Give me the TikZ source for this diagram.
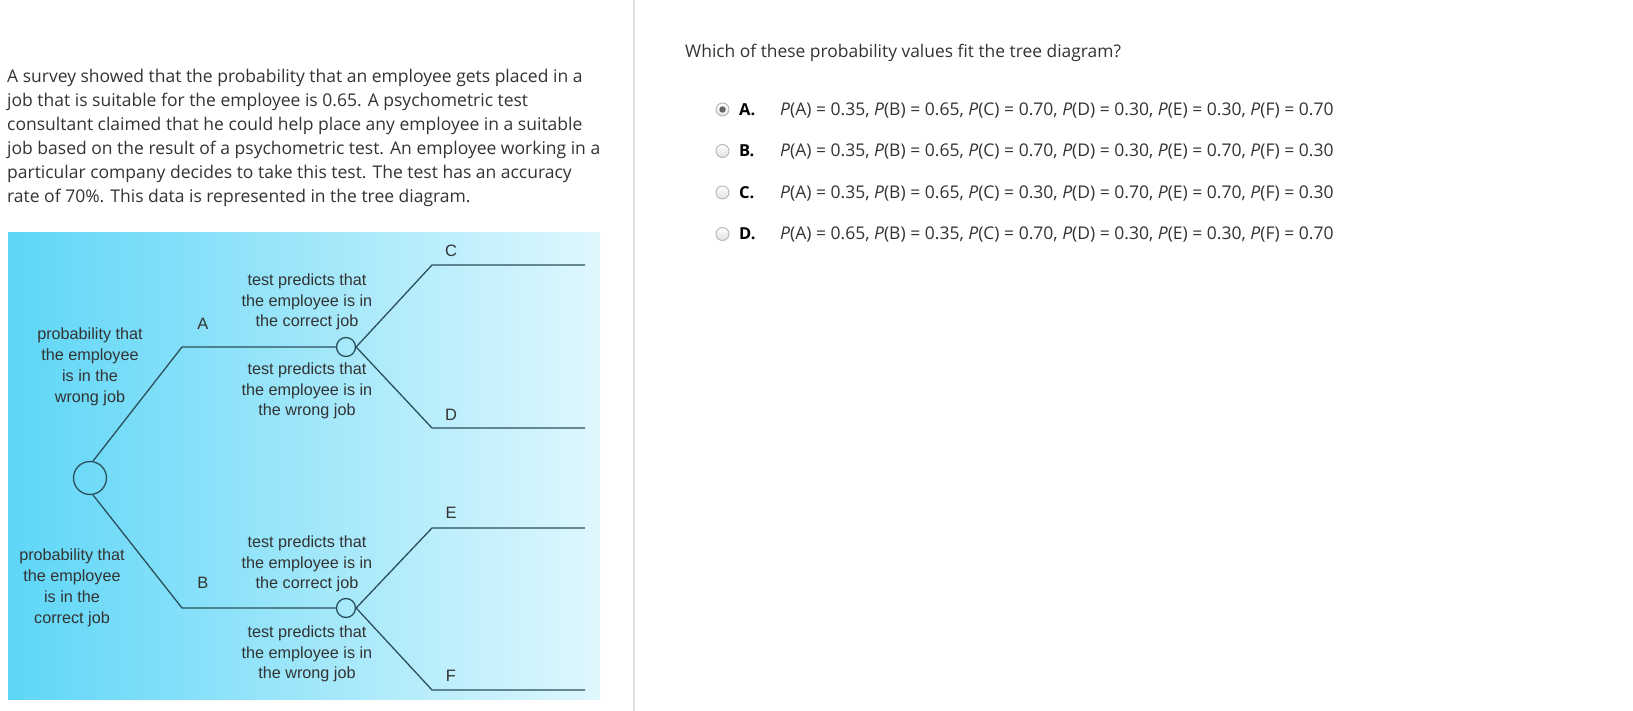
\documentclass[tikz,border=0pt]{standalone}
\usepackage{fontspec}
\setmainfont{Open Sans}
\newfontfamily\arialf{Liberation Sans}
\definecolor{boxL}{HTML}{5ED6F7}
\definecolor{boxR}{HTML}{DFF7FD}
\definecolor{treeline}{HTML}{2A4F5A}
\definecolor{txt}{HTML}{333333}
\definecolor{sep}{HTML}{E0E0E0}
\definecolor{radio}{HTML}{B5B5B5}
\tikzset{
  para/.style={anchor=base west, inner sep=0pt, text=txt, font=\fontsize{17.5}{24}\selectfont},
  lab/.style={align=center, inner sep=0pt, text=txt, font=\arialf\fontsize{16.2}{20.8}\selectfont},
  letter/.style={inner sep=0pt, text=txt, font=\arialf\fontsize{16.5}{19}\selectfont},
  tl/.style={draw=treeline, line width=1.3pt},
  bigc/.style={circle, draw=treeline, line width=1.3pt, minimum size=33pt, inner sep=0pt},
  smallc/.style={circle, draw=treeline, line width=1.3pt, minimum size=19pt, inner sep=0pt},
  rad/.style={circle, draw=radio, line width=0.9pt, minimum size=13pt, inner sep=0pt, top color=white, bottom color=black!12},
  optl/.style={anchor=base west, inner sep=0pt, text=black, font=\bfseries\fontsize{16.5}{18}\selectfont},
  optt/.style={anchor=base west, inner sep=0pt, text=txt, font=\fontsize{17.5}{18}\selectfont},
}
\newcommand{\Pp}{\textit{P}}
\begin{document}
\begin{tikzpicture}[x=1pt,y=-1pt]
\useasboundingbox (0,0) rectangle (1633,711);
\fill[white] (0,0) rectangle (1633,711);
% separator
\draw[sep, line width=1.5pt] (634,0) -- (634,711);
% paragraph
\node[para] (p1) at (7,83) {A survey showed that the probability that an employee gets placed in a};
\node[para] (p2) at (7,107) {job that is suitable for the employee is 0.65. A psychometric test};
\node[para] (p3) at (7,131) {consultant claimed that he could help place any employee in a suitable};
\node[para] (p4) at (7,155) {job based on the result of a psychometric test. An employee working in a};
\node[para] (p5) at (7,179) {particular company decides to take this test. The test has an accuracy};
\node[para] (p6) at (7,203) {rate of 70\%. This data is represented in the tree diagram.};
% diagram background
\shade[left color=boxL, right color=boxR] (8,233) rectangle (600,699);
% tree nodes
\node[bigc] (root) at (90,478) {};
\coordinate (ka) at (182,347);
\coordinate (kb) at (182,608);
\node[smallc] (sa) at (346,347) {};
\node[smallc] (sb) at (346,608) {};
\coordinate (kc) at (432,265);
\coordinate (ec) at (585,265);
\coordinate (kd) at (432,428);
\coordinate (ed) at (585,428);
\coordinate (ke) at (432,528);
\coordinate (ee) at (585,528);
\coordinate (kf) at (432,690);
\coordinate (ef) at (585,690);
\draw[tl] (root.80) -- (ka) -- (sa);
\draw[tl] (root.-80) -- (kb) -- (sb);
\draw[tl] (sa.east) -- (kc) -- (ec);
\draw[tl] (sa.east) -- (kd) -- (ed);
\draw[tl] (sb.east) -- (ke) -- (ee);
\draw[tl] (sb.east) -- (kf) -- (ef);
% letters
\node[letter] (lA) at (203,324) {A};
\node[letter] (lB) at (203,583) {B};
\node[letter] (lC) at (451,251) {C};
\node[letter] (lD) at (451,415) {D};
\node[letter] (lE) at (451,513) {E};
\node[letter] (lF) at (451,676) {F};
% labels
\node[lab] (t1) at (307,302) {test predicts that\\the employee is in\\the correct job};
\node[lab] (t2) at (307,391) {test predicts that\\the employee is in\\the wrong job};
\node[lab] (t3) at (307,564) {test predicts that\\the employee is in\\the correct job};
\node[lab] (t4) at (307,654) {test predicts that\\the employee is in\\the wrong job};
\node[lab] (w1) at (90,367) {probability that\\the employee\\is in the\\wrong job};
\node[lab] (w2) at (72,588) {probability that\\the employee\\is in the\\correct job};
% question
\node[anchor=base west, inner sep=0pt, text=txt, font=\fontsize{17.4}{20}\selectfont] (q) at (685,58) {Which of these probability values fit the tree diagram?};
% options
\node[rad] (ra) at (722.5,109.5) {};
\fill[black!60] (ra.center) circle (3.2pt);
\node[rad] (rb) at (722.5,151) {};
\node[rad] (rc) at (722.5,192.5) {};
\node[rad] (rd) at (722.5,234) {};
\node[optl] (oa) at (739,115.5) {A.};
\node[optl] (ob) at (739,157) {B.};
\node[optl] (oc) at (739,198.5) {C.};
\node[optl] (od) at (739,240) {D.};
\node[optt] (ta) at (780,115.5) {\Pp(A) = 0.35, \Pp(B) = 0.65, \Pp(C) = 0.70, \Pp(D) = 0.30, \Pp(E) = 0.30, \Pp(F) = 0.70};
\node[optt] (tb) at (780,157) {\Pp(A) = 0.35, \Pp(B) = 0.65, \Pp(C) = 0.70, \Pp(D) = 0.30, \Pp(E) = 0.70, \Pp(F) = 0.30};
\node[optt] (tc) at (780,198.5) {\Pp(A) = 0.35, \Pp(B) = 0.65, \Pp(C) = 0.30, \Pp(D) = 0.70, \Pp(E) = 0.70, \Pp(F) = 0.30};
\node[optt] (td) at (780,240) {\Pp(A) = 0.65, \Pp(B) = 0.35, \Pp(C) = 0.70, \Pp(D) = 0.30, \Pp(E) = 0.30, \Pp(F) = 0.70};
\end{tikzpicture}
\end{document}
